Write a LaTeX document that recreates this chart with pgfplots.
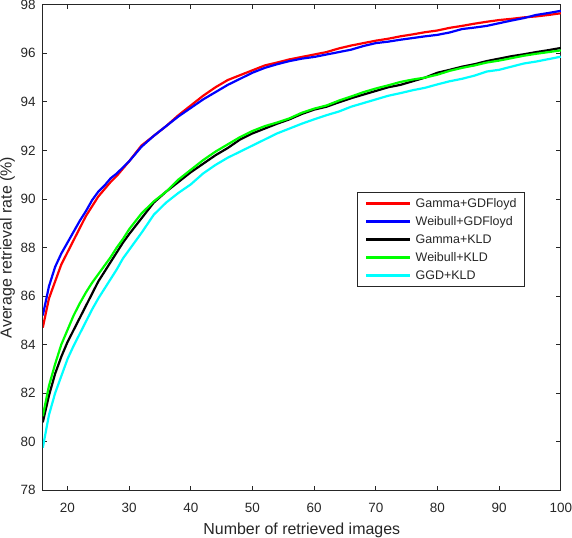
\documentclass[border=0pt]{standalone}
\usepackage{fontspec}
\setmainfont{Liberation Sans}
\usepackage{pgfplots}
\pgfplotsset{compat=1.18}
\definecolor{axgray}{RGB}{38,38,38}
\begin{document}
\begin{tikzpicture}
\begin{axis}[
  scale only axis,
  width=517.7bp, height=485.2bp,
  xmin=16, xmax=100, ymin=78, ymax=98,
  xtick={20,30,40,50,60,70,80,90,100},
  ytick={78,80,82,84,86,88,90,92,94,96,98},
  tick align=inside,
  major tick length=4.5bp,
  axis line style={axgray, line width=0.8bp},
  every tick/.style={axgray, line width=0.8bp},
  /pgf/number format/assume math mode=true,
  ticklabel style={font=\fontsize{13.5}{16}\selectfont, text=axgray},
  xticklabel style={inner sep=0pt, anchor=north, yshift=-12.5bp},
  yticklabel style={inner sep=0pt, anchor=east, xshift=-7bp},
  xlabel={Number of retrieved images},
  ylabel={Average retrieval rate (\%)},
  label style={font=\fontsize{16}{19}\selectfont, text=axgray, inner sep=0pt},
  xlabel style={at={(axis description cs:0.5,0)}, anchor=base, yshift=-44.2bp},
  ylabel style={at={(axis description cs:-0.083,0.5)}, anchor=north},
  every axis plot/.append style={line width=2.2bp},
  legend style={at={(0.607,0.615)}, anchor=north west,
    draw=axgray, line width=0.8bp, fill=white,
    font=\fontsize{12.5}{15}\selectfont, text=axgray,
    inner xsep=7.5bp, inner ysep=5.3bp,
    nodes={inner sep=0pt, text height=10.5bp, text depth=1.5bp},
    row sep=6bp, column sep=4bp},
  legend cell align=left,
  legend image code/.code={\draw[#1, line width=2.6bp] (0bp,0bp) -- (44bp,0bp);},
]
\addplot[color={rgb,255:red,255;green,0;blue,0}] coordinates {
(16,84.7)(17,85.9)(18,86.6)(19,87.3)(20,87.8)(21,88.3)(22,88.8)(23,89.3)(24,89.7)(25,90.1)
(26,90.4)(27,90.7)(28,90.95)(29,91.25)(30,91.55)(32,92.2)(34,92.6)(36,93.0)(38,93.45)(40,93.85)
(42,94.25)(44,94.6)(46,94.9)(48,95.1)(50,95.3)(52,95.5)(54,95.62)(56,95.75)(58,95.85)(60,95.95)
(62,96.05)(64,96.2)(66,96.32)(68,96.42)(70,96.52)(72,96.6)(74,96.7)(76,96.78)(78,96.87)(80,96.94)
(82,97.05)(84,97.13)(86,97.22)(88,97.3)(90,97.37)(92,97.42)(94,97.48)(96,97.52)(98,97.58)(100,97.65)
};
\addlegendentry{Gamma+GDFloyd}
\addplot[color={rgb,255:red,0;green,0;blue,255}] coordinates {
(16,85.2)(17,86.4)(18,87.2)(19,87.75)(20,88.2)(21,88.65)(22,89.1)(23,89.5)(24,89.95)(25,90.3)
(26,90.55)(27,90.85)(28,91.05)(29,91.3)(30,91.55)(32,92.15)(34,92.6)(36,93.0)(38,93.4)(40,93.75)
(42,94.1)(44,94.4)(46,94.7)(48,94.95)(50,95.2)(52,95.4)(54,95.55)(56,95.68)(58,95.78)(60,95.85)
(62,95.95)(64,96.05)(66,96.15)(68,96.3)(70,96.42)(72,96.48)(74,96.56)(76,96.63)(78,96.7)(80,96.76)
(82,96.86)(84,97.0)(86,97.06)(88,97.13)(90,97.24)(92,97.35)(94,97.45)(96,97.58)(98,97.66)(100,97.75)
};
\addlegendentry{Weibull+GDFloyd}
\addplot[color=black] coordinates {
(16,80.8)(17,81.9)(18,82.8)(19,83.5)(20,84.1)(21,84.6)(22,85.1)(23,85.6)(24,86.1)(25,86.6)
(26,87.0)(27,87.4)(28,87.8)(29,88.2)(30,88.55)(32,89.2)(34,89.85)(36,90.3)(38,90.7)(40,91.1)
(42,91.45)(44,91.8)(46,92.1)(48,92.45)(50,92.7)(52,92.9)(54,93.1)(56,93.28)(58,93.5)(60,93.68)
(62,93.8)(64,93.98)(66,94.15)(68,94.3)(70,94.45)(72,94.6)(74,94.7)(76,94.85)(78,95.0)(80,95.2)
(82,95.32)(84,95.45)(86,95.55)(88,95.68)(90,95.78)(92,95.88)(94,95.96)(96,96.05)(98,96.13)(100,96.22)
};
\addlegendentry{Gamma+KLD}
\addplot[color={rgb,255:red,0;green,255;blue,0}] coordinates {
(16,81.05)(17,82.3)(18,83.2)(19,84.0)(20,84.6)(21,85.2)(22,85.7)(23,86.15)(24,86.55)(25,86.9)
(26,87.25)(27,87.6)(28,88.0)(29,88.35)(30,88.75)(32,89.4)(34,89.9)(36,90.3)(38,90.8)(40,91.2)
(42,91.6)(44,91.95)(46,92.25)(48,92.55)(50,92.8)(52,93.0)(54,93.15)(56,93.32)(58,93.55)(60,93.72)
(62,93.85)(64,94.05)(66,94.22)(68,94.4)(70,94.55)(72,94.68)(74,94.82)(76,94.92)(78,95.0)(80,95.12)
(82,95.28)(84,95.4)(86,95.5)(88,95.62)(90,95.7)(92,95.8)(94,95.9)(96,95.98)(98,96.05)(100,96.12)
};
\addlegendentry{Weibull+KLD}
\addplot[color={rgb,255:red,0;green,255;blue,255}] coordinates {
(16,79.75)(17,81.1)(18,82.0)(19,82.7)(20,83.4)(21,83.95)(22,84.45)(23,84.95)(24,85.45)(25,85.9)
(26,86.3)(27,86.7)(28,87.1)(29,87.55)(30,87.9)(32,88.6)(34,89.35)(36,89.85)(38,90.25)(40,90.6)
(42,91.05)(44,91.4)(46,91.7)(48,91.95)(50,92.2)(52,92.45)(54,92.7)(56,92.9)(58,93.1)(60,93.28)
(62,93.45)(64,93.6)(66,93.8)(68,93.95)(70,94.1)(72,94.25)(74,94.36)(76,94.48)(78,94.58)(80,94.72)
(82,94.85)(84,94.95)(86,95.08)(88,95.25)(90,95.32)(92,95.45)(94,95.58)(96,95.66)(98,95.76)(100,95.86)
};
\addlegendentry{GGD+KLD}
\end{axis}
\end{tikzpicture}
\end{document}
